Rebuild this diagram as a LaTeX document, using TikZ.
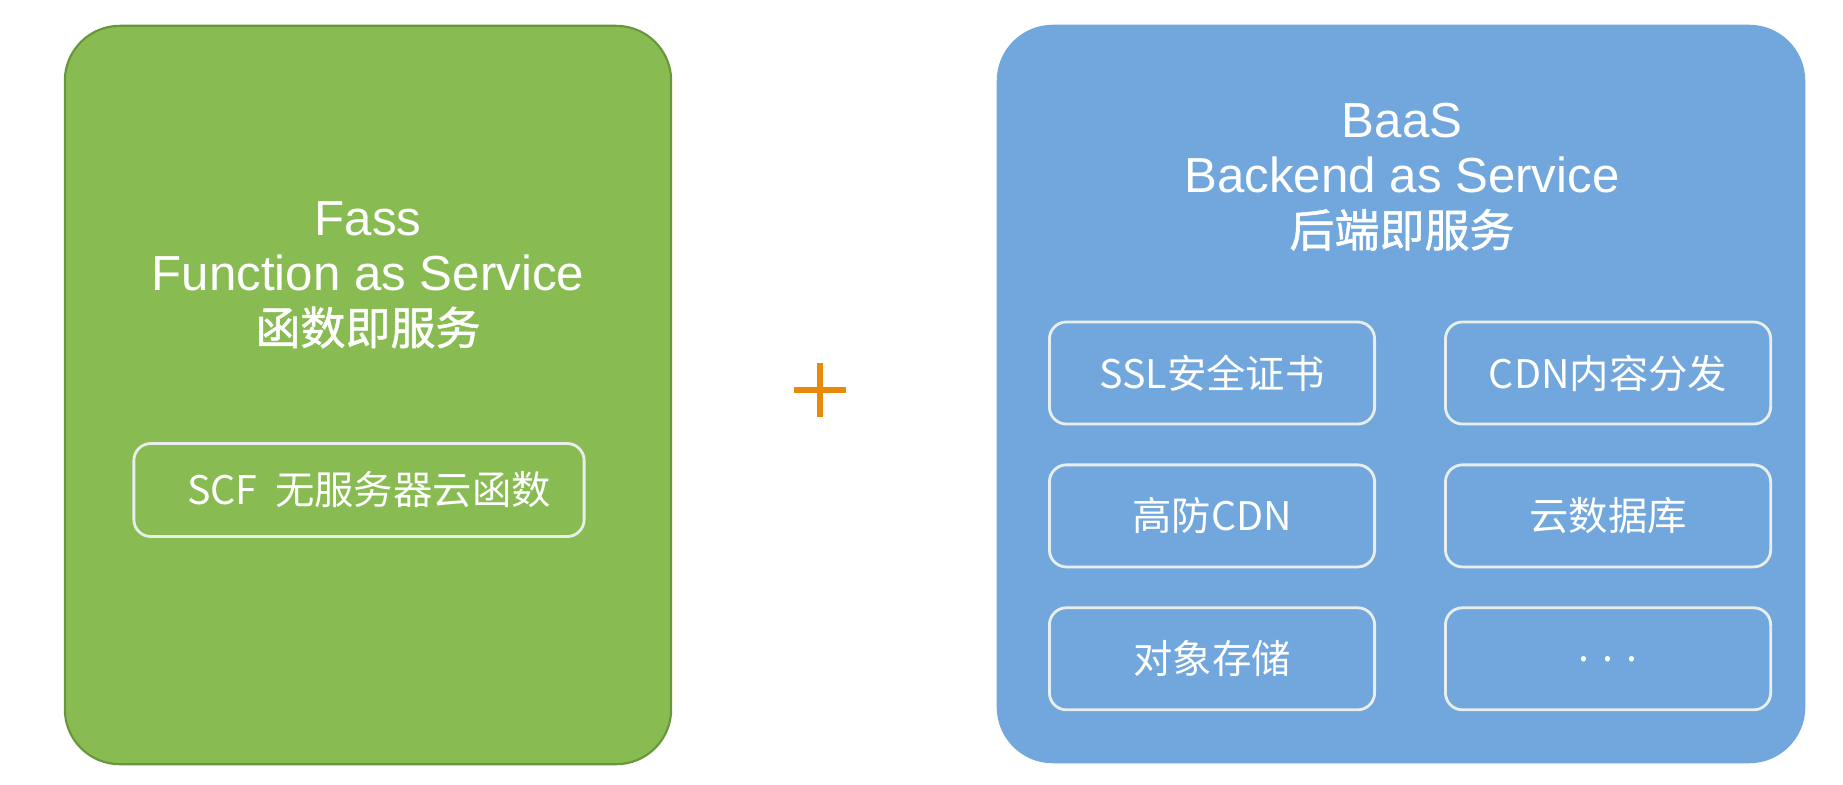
\documentclass[tikz,border=0pt]{standalone}
\usepackage{fontspec}
\setmainfont{Liberation Sans}
\newfontfamily\cjk{Noto Sans CJK SC}
\newfontfamily\cjkhead[FakeBold=1.2]{Noto Sans CJK SC}
\usetikzlibrary{positioning}
\definecolor{fassgreen}{RGB}{136,188,82}
\definecolor{fassedge}{RGB}{104,150,58}
\definecolor{baasblue}{RGB}{113,167,221}
\definecolor{plusorange}{RGB}{232,137,12}
\definecolor{cardedge}{RGB}{232,238,236}

\begin{document}
\begin{tikzpicture}[x=0.01cm,y=-0.01cm,
	panel/.style={rounded corners=0.55cm,line width=0.6pt},
	card/.style={draw=cardedge,line width=0.8pt,rounded corners=0.17cm,text=white,minimum width=3.25cm,minimum height=1.02cm,font=\cjk\fontsize{11.2}{13}\selectfont},
	heading/.style={text=white,align=center,font=\fontsize{14}{15.5}\selectfont},
	plusmark/.style={plusorange,line width=1.5pt},
	node distance=0.38cm and 0.68cm]
	\useasboundingbox (0,0) rectangle (1843,784);
	\node[panel,draw=fassedge,fill=fassgreen,minimum width=6.06cm,minimum height=7.38cm] (faas) at (368,395) {};
	\node[heading] (faastitle) at (368,275) {Fass\\Function as Service\\{\cjkhead\fontsize{12.8}{15.5}\selectfont 函数即服务}};
	\node[card,minimum width=4.5cm,minimum height=0.93cm] (scf) at (359,490) {\hspace{0.2cm}SCF~~无服务器云函数};

	\coordinate (plus) at (820,390);
	\draw[plusmark] ([xshift=-0.26cm]plus) -- ([xshift=0.26cm]plus);
	\draw[plusmark] ([yshift=-0.27cm]plus) -- ([yshift=0.27cm]plus);

	\node[panel,draw=baasblue,fill=baasblue,minimum width=8.06cm,minimum height=7.36cm] (baas) at (1401,394) {};
	\node[heading] (baastitle) at (1402,177) {BaaS\\Backend as Service\\{\cjkhead\fontsize{12.8}{15.5}\selectfont 后端即服务}};
	\node[card] (ssl) at (1212,373) {SSL安全证书};
	\node[card,right=of ssl] (cdn) {CDN内容分发};
	\node[card,below=of ssl] (gfcdn) {高防CDN};
	\node[card,below=of cdn] (db) {云数据库};
	\node[card,below=of gfcdn] (cos) {对象存储};
	\node[card,below=of db] (more) {.\,\,.\,\,.};
\end{tikzpicture}
\end{document}
